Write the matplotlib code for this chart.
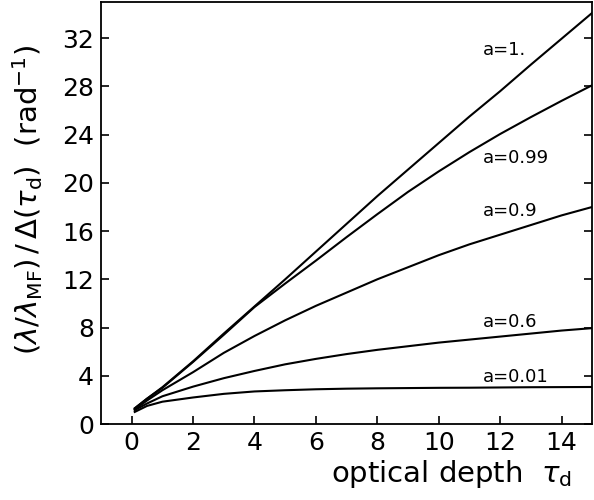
import matplotlib
matplotlib.use("Agg")
import matplotlib.pyplot as plt

# optical depth samples
tau = [0.1, 0.5, 1, 2, 3, 4, 5, 6, 7, 8, 9, 10, 11, 12, 13, 14, 15]

# curves, one per albedo a
curve_a100 = [1.3, 2.1, 3.05, 5.2, 7.5, 9.75, 12.0, 14.3, 16.6, 18.9, 21.1, 23.3, 25.5, 27.6, 29.8, 31.95, 34.1]
curve_a099 = [1.3, 2.1, 3.0, 5.15, 7.4, 9.7, 11.65, 13.55, 15.5, 17.4, 19.25, 20.95, 22.55, 24.05, 25.45, 26.8, 28.1]
curve_a090 = [1.2, 1.95, 2.8, 4.3, 5.9, 7.3, 8.6, 9.8, 10.9, 12.0, 13.0, 14.0, 14.9, 15.7, 16.5, 17.3, 18.0]
curve_a060 = [1.15, 1.7, 2.3, 3.1, 3.8, 4.4, 4.95, 5.4, 5.8, 6.15, 6.45, 6.75, 7.0, 7.25, 7.5, 7.75, 7.95]
curve_a001 = [1.0, 1.5, 1.85, 2.2, 2.5, 2.7, 2.8, 2.88, 2.93, 2.96, 2.98, 3.0, 3.01, 3.03, 3.05, 3.06, 3.07]

curves = [curve_a100, curve_a099, curve_a090, curve_a060, curve_a001]
labels = ["a=1.", "a=0.99", "a=0.9", "a=0.6", "a=0.01"]
label_y = [31.0, 22.1, 17.7, 8.5, 3.9]
label_x = 11.45

xticks = [0, 2, 4, 6, 8, 10, 12, 14]
yticks = [0, 4, 8, 12, 16, 20, 24, 28, 32]

plt.rcParams["font.family"] = ["DejaVu Sans"]
plt.rcParams["mathtext.fontset"] = "dejavusans"

fig = plt.figure(figsize=(5.94, 5.0), dpi=100)
ax = fig.add_axes([0.170, 0.152, 0.827, 0.844])

for ys in curves:
    ax.plot(tau, ys, color="black", linewidth=1.5)

for lab, ly in zip(labels, label_y):
    ax.text(label_x, ly, lab, fontsize=13, va="center", ha="left")

ax.set_xlim(-1, 15)
ax.set_ylim(0, 35)
ax.set_xticks(xticks)
ax.set_yticks(yticks)
ax.tick_params(direction="in", length=6, width=1.2, labelsize=18, pad=5,
               right=True, top=False)
for sp in ax.spines.values():
    sp.set_linewidth(1.3)

fig.text(28 / 594, 0.60,
         r"$(\lambda/\lambda_{\rm MF})\,/\,\Delta(\tau_{\rm d})$  (rad$^{-1}$)",
         rotation=90, ha="center", va="center", fontsize=21)
fig.text(572 / 594, 1 - 474 / 500, r"optical depth  $\tau_{\rm d}$",
         ha="right", va="center", fontsize=21)

fig.savefig("out.png", dpi=100)
